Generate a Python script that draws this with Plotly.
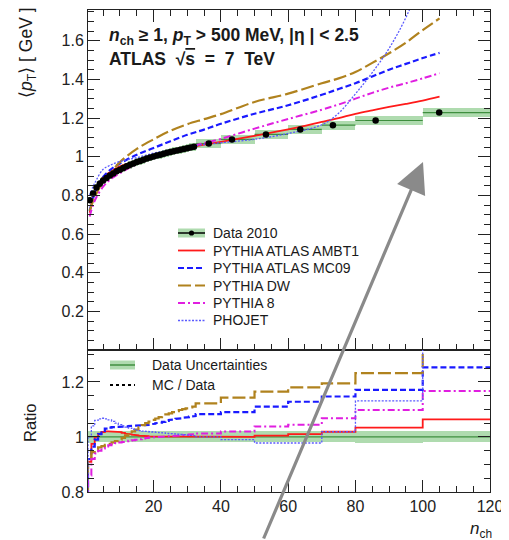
import plotly.graph_objects as go

# ---------------- data ----------------
n_int = list(range(1, 33))
wide_lo = [32.5, 40, 50, 60, 70, 80, 100]
wide_hi = [40, 50, 60, 70, 80, 100, 120]
wide_mean = [36.4, 43.3, 53.4, 63.6, 73.3, 86.0, 104.9]

data_int = [0.775, 0.81, 0.84, 0.86, 0.877, 0.89, 0.902, 0.913, 0.924, 0.933,
            0.942, 0.95, 0.958, 0.965, 0.972, 0.978, 0.984, 0.99, 0.996, 1.001,
            1.006, 1.01, 1.015, 1.02, 1.024, 1.028, 1.032, 1.036, 1.04, 1.044, 1.048, 1.051]
data_wide = [1.068, 1.089, 1.115, 1.141, 1.163, 1.187, 1.228]
data_relerr_int = [0.022, 0.021, 0.02, 0.02, 0.02, 0.02, 0.02, 0.02, 0.02, 0.02,
                   0.02, 0.02, 0.02, 0.02, 0.02, 0.02, 0.02, 0.02, 0.02, 0.02,
                   0.02, 0.02, 0.02, 0.02, 0.02, 0.02, 0.02, 0.02, 0.02, 0.02, 0.02, 0.02]
data_relerr_wide = [0.02, 0.02, 0.02, 0.02, 0.02, 0.021, 0.02]

# model predictions (top panel, smooth curves)
n_model = [1, 2, 3, 5, 7, 10, 15, 20, 25, 30, 35, 40, 50, 60, 70, 75, 80, 85, 90, 95, 100, 105]
mc_ambt1 = [0.71, 0.79, 0.84, 0.893, 0.92, 0.95, 0.978, 1.003, 1.025, 1.045, 1.062, 1.077, 1.108,
            1.141, 1.18, 1.2, 1.222, 1.24, 1.257, 1.273, 1.29, 1.31]
mc_mc09 = [0.72, 0.785, 0.83, 0.895, 0.93, 0.965, 1.01, 1.045, 1.08, 1.113, 1.14, 1.17, 1.222,
           1.266, 1.32, 1.35, 1.38, 1.415, 1.45, 1.48, 1.51, 1.537]
mc_dw = [0.72, 0.77, 0.81, 0.87, 0.91, 0.972, 1.04, 1.09, 1.134, 1.168, 1.194, 1.22, 1.283,
         1.326, 1.38, 1.405, 1.438, 1.485, 1.535, 1.59, 1.655, 1.715]
mc_p8 = [0.69, 0.75, 0.79, 0.845, 0.88, 0.915, 0.962, 1.0, 1.027, 1.05, 1.07, 1.092, 1.145,
         1.195, 1.243, 1.27, 1.30, 1.33, 1.357, 1.38, 1.405, 1.432]
mc_phojet = [0.80, 0.845, 0.88, 0.935, 0.955, 0.975, 0.995, 1.018, 1.035, 1.05, 1.063, 1.072, 1.09,
             1.12, 1.165, 1.225, 1.325, 1.435, 1.56, 1.72, 1.93, 2.15]

# MC / Data ratios per bin (32 integer bins + 7 wide bins)
ratio_ambt1 = [0.91, 0.975, 1.0, 1.012, 1.018, 1.02, 1.02, 1.02, 1.02, 1.018,
               1.015, 1.012, 1.01, 1.008, 1.006, 1.005, 1.004, 1.003, 1.002, 1.001,
               1.0, 1.0, 1.0, 1.0, 1.0, 1.0, 1.0, 1.0, 1.0, 1.0, 1.0, 1.0,
               1.0, 1.0, 1.005, 1.01, 1.019, 1.034, 1.064]
ratio_mc09 = [0.92, 0.965, 0.99, 1.01, 1.022, 1.03, 1.034, 1.036, 1.037, 1.037,
              1.038, 1.038, 1.04, 1.04, 1.041, 1.042, 1.043, 1.044, 1.046, 1.048,
              1.05, 1.052, 1.055, 1.058, 1.062, 1.064, 1.066, 1.068, 1.07, 1.072, 1.074, 1.076,
              1.083, 1.09, 1.11, 1.128, 1.147, 1.171, 1.253]
ratio_dw = [0.92, 0.945, 0.955, 0.962, 0.967, 0.971, 0.975, 0.98, 0.985, 0.99,
            0.997, 1.005, 1.013, 1.02, 1.027, 1.035, 1.043, 1.05, 1.056, 1.062,
            1.067, 1.072, 1.077, 1.082, 1.086, 1.09, 1.094, 1.098, 1.101, 1.104, 1.107, 1.11,
            1.122, 1.143, 1.165, 1.18, 1.195, 1.232, 1.38]
ratio_p8 = [0.86, 0.92, 0.94, 0.95, 0.958, 0.965, 0.97, 0.974, 0.977, 0.98,
            0.982, 0.984, 0.986, 0.988, 0.99, 0.992, 0.994, 0.996, 0.998, 0.999,
            1.0, 1.0, 1.001, 1.002, 1.003, 1.004, 1.005, 1.006, 1.007, 1.008, 1.009, 1.01,
            1.013, 1.02, 1.038, 1.044, 1.068, 1.098, 1.167]
ratio_phojet = [1.0, 1.04, 1.06, 1.066, 1.068, 1.066, 1.062, 1.057, 1.05, 1.045,
                1.04, 1.036, 1.032, 1.028, 1.025, 1.023, 1.021, 1.02, 1.019, 1.018,
                1.017, 1.016, 1.015, 1.013, 1.012, 1.011, 1.01, 1.009, 1.008, 1.007, 1.006, 1.005,
                1.0, 0.99, 0.978, 0.978, 1.019, 1.131, 1.5]

legend_top = ["Data 2010", "PYTHIA ATLAS AMBT1", "PYTHIA ATLAS MC09", "PYTHIA DW", "PYTHIA 8", "PHOJET"]
legend_bot = ["Data Uncertainties", "MC / Data"]

# ---------------- layout geometry (page pixels) ----------------
FONT = "Liberation Sans, Arial, Helvetica, sans-serif"
OFF = 8                      # default page body margin
PAGE_W, PAGE_H = 509, 540
W, H = PAGE_W - OFF, PAGE_H - OFF
PL, PR, PT, PB = 88, 490, 10, 492    # plot area in page pixels
ML, MT = PL - OFF, PT - OFF
MR, MB = W - (PR - OFF), H - (PB - OFF)
PW, PH = PR - PL, PB - PT
SPLIT = 350
split_frac = (PB - SPLIT) / PH

styles = {
    "PYTHIA ATLAS AMBT1": dict(color="#ff1a1a", dash="solid", width=1.8),
    "PYTHIA ATLAS MC09": dict(color="#1a1aff", dash="6px,3px", width=2.2),
    "PYTHIA DW": dict(color="#b0821e", dash="13px,4px", width=2.2),
    "PYTHIA 8": dict(color="#e01ee0", dash="7px,3px,2px,3px", width=2.0),
    "PHOJET": dict(color="#5a5aff", dash="2px,1.5px", width=1.3),
}
BAND = "rgba(110,190,110,0.55)"
BANDLINE = "#3f8f3f"

models_top = [("PYTHIA ATLAS AMBT1", mc_ambt1), ("PYTHIA ATLAS MC09", mc_mc09),
              ("PYTHIA DW", mc_dw), ("PYTHIA 8", mc_p8), ("PHOJET", mc_phojet)]
models_ratio = [("PYTHIA ATLAS AMBT1", ratio_ambt1), ("PYTHIA ATLAS MC09", ratio_mc09),
                ("PYTHIA DW", ratio_dw), ("PYTHIA 8", ratio_p8), ("PHOJET", ratio_phojet)]

bin_lo = [n - 0.5 for n in n_int] + wide_lo
bin_hi = [n + 0.5 for n in n_int] + wide_hi
bin_x = n_int + wide_mean
bin_val = data_int + data_wide
bin_rel = data_relerr_int + data_relerr_wide
bin_ctr = [(a + b) / 2 for a, b in zip(bin_lo, bin_hi)]
bin_w = [b - a for a, b in zip(bin_lo, bin_hi)]

fig = go.Figure()

# ---- top panel ----
fig.add_trace(go.Bar(x=bin_ctr, y=[2 * v * r for v, r in zip(bin_val, bin_rel)],
                     base=[v * (1 - r) for v, r in zip(bin_val, bin_rel)], width=bin_w,
                     marker=dict(color=BAND, line=dict(width=0)), showlegend=False,
                     xaxis="x", yaxis="y"))
cx, cy = [], []
for lo, hi, v in zip(wide_lo, wide_hi, data_wide):
    cx += [lo, hi, None]
    cy += [v, v, None]
fig.add_trace(go.Scatter(x=cx, y=cy, mode="lines", line=dict(color=BANDLINE, width=1.2),
                         showlegend=False, xaxis="x", yaxis="y"))
for name, vals in models_top:
    st = styles[name]
    fig.add_trace(go.Scatter(x=n_model, y=vals, mode="lines", line_shape="spline",
                             line=dict(color=st["color"], dash=st["dash"], width=st["width"]),
                             showlegend=False, xaxis="x", yaxis="y"))
fig.add_trace(go.Scatter(x=bin_x, y=bin_val, mode="markers",
                         marker=dict(color="black", size=6.5), showlegend=False,
                         xaxis="x", yaxis="y"))

# ---- bottom panel ----
fig.add_trace(go.Bar(x=bin_ctr, y=[2 * r for r in bin_rel], base=[1 - r for r in bin_rel],
                     width=bin_w, marker=dict(color=BAND, line=dict(width=0)),
                     showlegend=False, xaxis="x2", yaxis="y2"))
fig.add_trace(go.Scatter(x=[bin_lo[0], bin_hi[-1]], y=[1, 1], mode="lines",
                         line=dict(color=BANDLINE, width=1.2), showlegend=False,
                         xaxis="x2", yaxis="y2"))
for name, vals in models_ratio:
    st = styles[name]
    xs, ys = [bin_lo[0]], [0.0]
    for lo, hi, v in zip(bin_lo, bin_hi, vals):
        xs += [lo, hi]
        ys += [v, v]
    fig.add_trace(go.Scatter(x=xs, y=ys, mode="lines",
                             line=dict(color=st["color"], dash=st["dash"], width=st["width"]),
                             showlegend=False, xaxis="x2", yaxis="y2"))

# ---------------- axes ----------------
tickc = "#222"
base_ax = dict(showline=True, linecolor=tickc, linewidth=1, ticks="inside", ticklen=12,
               tickcolor=tickc, showgrid=False, zeroline=False,
               tickfont=dict(family=FONT, size=16, color="#222"))
fig.update_layout(
    width=W, height=H, margin=dict(l=ML, r=MR, t=MT, b=MB, autoexpand=False),
    paper_bgcolor="white", plot_bgcolor="white", barmode="overlay", bargap=0,
    xaxis=dict(domain=[0, 1], range=[0.5, 120], anchor="y", tickvals=[20, 40, 60, 80, 100],
               showticklabels=False, mirror="allticks",
               minor=dict(dtick=5, tick0=0, ticklen=6, ticks="inside", tickcolor=tickc),
               **base_ax),
    yaxis=dict(domain=[split_frac, 1], range=[0, 1.7587], anchor="x", mirror="allticks",
               tickvals=[0.2, 0.4, 0.6, 0.8, 1.0, 1.2, 1.4, 1.6],
               ticktext=["0.2", "0.4", "0.6", "0.8", "1", "1.2", "1.4", "1.6"],
               minor=dict(tickvals=[0.05 * i for i in range(1, 36)], ticklen=6, ticks="inside",
                          tickcolor=tickc),
               **base_ax),
    xaxis2=dict(domain=[0, 1], range=[0.5, 120], anchor="y2", mirror=True,
                tickvals=[20, 40, 60, 80, 100, 120],
                minor=dict(dtick=5, tick0=0, ticklen=6, ticks="inside", tickcolor=tickc),
                **base_ax),
    yaxis2=dict(domain=[0, split_frac], range=[0.8, 1.316], anchor="x2", mirror="allticks",
                tickvals=[0.8, 1.0, 1.2], ticktext=["0.8", "1", "1.2"],
                minor=dict(tickvals=[0.85, 0.9, 0.95, 1.05, 1.1, 1.15, 1.25, 1.3], ticklen=6,
                           ticks="inside", tickcolor=tickc),
                **base_ax),
)


def px2paper(px, py):
    return (px - PL) / PW, (PB - py) / PH


shapes, annots = [], []


def ann(px, py, text, size=14, xanchor="left", yanchor="middle", angle=0):
    x, y = px2paper(px, py)
    annots.append(dict(x=x, y=y, xref="paper", yref="paper", text=text, showarrow=False,
                       xanchor=xanchor, yanchor=yanchor, textangle=angle,
                       font=dict(family=FONT, size=size, color="#1a1a1a")))


def hline(px0, px1, py, color, width, dash="solid"):
    x0, y0 = px2paper(px0, py)
    x1, _ = px2paper(px1, py)
    shapes.append(dict(type="line", xref="paper", yref="paper", x0=x0, x1=x1, y0=y0, y1=y0,
                       line=dict(color=color, width=width, dash=dash)))


def rect(px0, px1, py0, py1, color):
    x0, y0 = px2paper(px0, py0)
    x1, y1 = px2paper(px1, py1)
    shapes.append(dict(type="rect", xref="paper", yref="paper", x0=x0, x1=x1, y0=y0, y1=y1,
                       fillcolor=color, line=dict(width=0)))


def dot(px, py, r, color):
    x0, y0 = px2paper(px - r, py + r)
    x1, y1 = px2paper(px + r, py - r)
    shapes.append(dict(type="circle", xref="paper", yref="paper", x0=x0, x1=x1, y0=y0, y1=y1,
                       fillcolor=color, line=dict(width=0)))


# header text
ann(107, 36, "<b><i>n</i><sub>ch</sub> ≥ 1, <i>p</i><sub>T</sub> &gt; 500 MeV, |η | &lt; 2.5</b>", size=17.5)
ann(107, 59, "<b>ATLAS &nbsp;√<span style='text-decoration:overline'>s</span> &nbsp;= &nbsp;7 &nbsp;TeV</b>",
    size=17.5)

# axis titles
ann(27, 53, "⟨<i>p</i><sub>T</sub>⟩ [ GeV ]", size=17.5, xanchor="center", angle=-90)
ann(30, 422, "Ratio", size=16.5, xanchor="center", angle=-90)
ann(494, 530, "<i>n</i><sub>ch</sub>", size=17, xanchor="right")

# top legend
rows = [233, 250.5, 268, 285.5, 303, 320.5]
sx0, sx1, tx = 178, 205, 211
rect(sx0, sx1, rows[0] - 4.5, rows[0] + 4.5, BAND)
hline(sx0, sx1, rows[0], "black", 1.5)
dot((sx0 + sx1) / 2, rows[0], 2.6, "black")
for i, name in enumerate(legend_top):
    ann(tx, rows[i], name, size=14)
    if i > 0:
        st = styles[name]
        hline(sx0, sx1, rows[i], st["color"], st["width"], st["dash"])
# bottom legend
rect(110, 135, 365 - 4.5, 365 + 4.5, BAND)
hline(110, 135, 365, BANDLINE, 1.5)
ann(150, 365, legend_bot[0], size=14)
hline(110, 135, 385, "black", 2, "3px,3px")
ann(150, 385, legend_bot[1], size=14)

# big grey arrow overlaid on the figure
tx_, ty_ = px2paper(423, 162)
annots.append(dict(x=tx_, y=ty_, xref="paper", yref="paper", text="", showarrow=True,
                   ax=-160, ay=386, arrowhead=2, arrowsize=1.9, arrowwidth=3.2,
                   arrowcolor="#8a8a8a", standoff=0))

fig.update_layout(shapes=shapes, annotations=annots)
fig.write_html("out.html")
